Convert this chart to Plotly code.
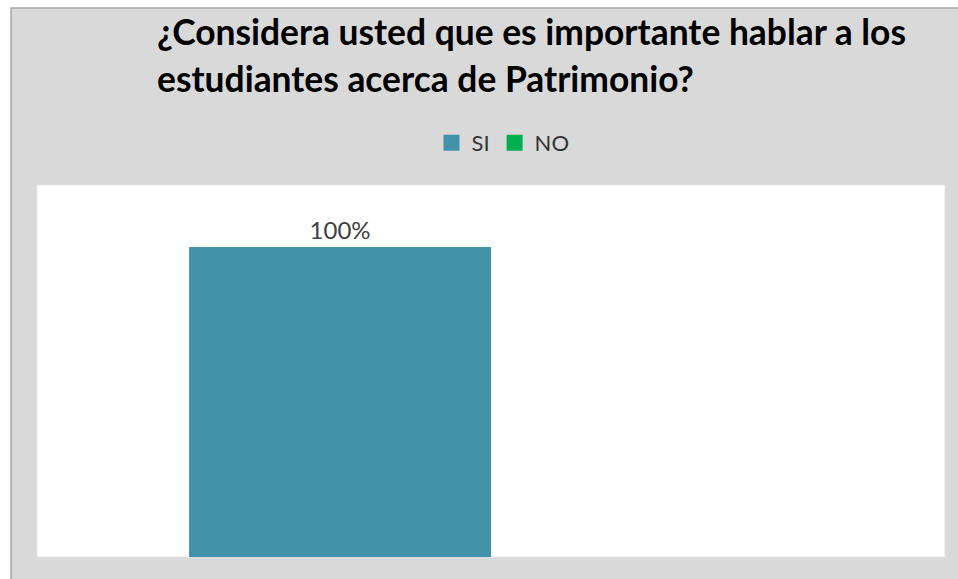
import plotly.graph_objects as go

categories = [""]
series_names = ["SI", "NO"]
series_values = [[100], [0]]
series_labels = [["100%"], [""]]
series_colors = ["#4293a9", "#00b050"]
title_lines = ["¿Considera usted que es importante hablar a los",
               "estudiantes acerca de Patrimonio?"]

W, H = 958, 579
L, R, T, B = 37, 13, 185, 22
pw, ph = W - L - R, H - T - B

fig = go.Figure()
for name, vals, labs, col in zip(series_names, series_values, series_labels, series_colors):
    fig.add_trace(go.Bar(
        x=categories, y=vals, name=name, text=labs,
        textposition="outside", cliponaxis=False,
        textfont=dict(family="Lato", size=24, color="#404040"),
        marker=dict(color=col, line=dict(width=0)),
        legendgroup=name, showlegend=False,
    ))
# legend entries (square swatches)
for name, col in zip(series_names, series_colors):
    fig.add_trace(go.Scatter(
        x=[None], y=[None], mode="markers", name=name, legendgroup=name,
        marker=dict(symbol="square", size=16, color=col),
        showlegend=True, hoverinfo="skip",
    ))

def px_x(p):
    return (p - L) / pw

def px_y(p):
    return (H - B - p) / ph

shapes = [
    dict(type="rect", xref="paper", yref="paper", layer="below",
         x0=px_x(11), x1=px_x(W + 5), y0=px_y(8), y1=px_y(H + 5),
         fillcolor="#d9d9d9", line=dict(color="#a6a6a6", width=1.5)),
    dict(type="rect", xref="paper", yref="paper", layer="below",
         x0=0, x1=1, y0=0, y1=1,
         fillcolor="#ffffff", line=dict(color="#e4e4e4", width=1)),
]

title_text = "<br>".join(f"<span style='font-size:35.4px'>{t}</span>" for t in title_lines)

fig.update_layout(
    width=W, height=H,
    margin=dict(l=L, r=R, t=T, b=B, pad=0),
    paper_bgcolor="#ffffff",
    plot_bgcolor="rgba(0,0,0,0)",
    barmode="group",
    bargap=0.335,
    bargroupgap=0,
    shapes=shapes,
    title=dict(text=title_text, xref="container", yref="container",
               x=157 / W, xanchor="left", y=1 - 45 / H, yanchor="top",
               font=dict(family="Lato", size=36, color="#000000", weight="bold"),
               pad=dict(t=0, b=0, l=0, r=0)),
    legend=dict(orientation="h", x=px_x(503), xanchor="center",
                y=px_y(143), yanchor="middle",
                font=dict(family="Lato", size=22, color="#333333"),
                bgcolor="rgba(0,0,0,0)", itemwidth=30, traceorder="normal",
                itemsizing="trace"),
    xaxis=dict(showticklabels=False, showgrid=False, zeroline=False,
               showline=False, fixedrange=True),
    yaxis=dict(range=[0, 120], showticklabels=False, showgrid=False,
               zeroline=False, showline=False, fixedrange=True),
    showlegend=True,
)

fig.write_html("out.html", config={"displayModeBar": False},
               post_script="document.body.style.margin='0';")
